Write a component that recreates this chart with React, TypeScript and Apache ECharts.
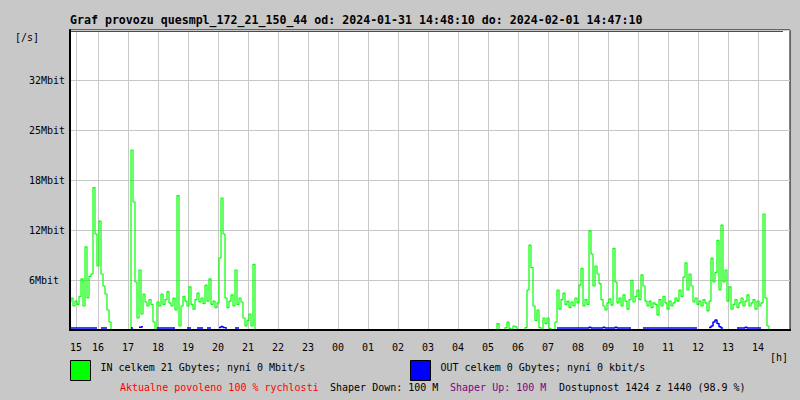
import React, { useEffect, useRef } from "react";
import * as echarts from "echarts";

const TITLE =
  "Graf provozu quesmpl_172_21_150_44 od: 2024-01-31 14:48:10 do: 2024-02-01 14:47:10";
const IN_NAME = "IN celkem 21 Gbytes; nyní 0 Mbit/s";
const OUT_NAME = "OUT celkem 0 Gbytes; nyní 0 kbit/s";
const Y_UNIT = "[/s]";
const X_UNIT = "[h]";
const STATUS_TEXTS = [
  "Aktualne povoleno 100 % rychlosti",
  "Shaper Down: 100 M",
  "Shaper Up: 100 M",
  "Dostupnost 1424 z 1440 (98.9 %)",
];
const STATUS_COLORS = ["#ff0000", "#000000", "#800080", "#000000"];

// x axis: minutes after 2024-01-31 15:00
const X_MIN = 4;
const X_MAX = 1444;
const HOUR_TICK_MIN = [16, 60, 120, 180, 240, 300, 360, 420, 480, 540, 600, 660, 720, 780, 840, 900, 960, 1020, 1080, 1140, 1200, 1260, 1320, 1380];
const HOUR_LABELS = ["15", "16", "17", "18", "19", "20", "21", "22", "23", "00", "01", "02", "03", "04", "05", "06", "07", "08", "09", "10", "11", "12", "13", "14"];

// y axis (Mbit/s)
const Y_MAX = 37.5;
const Y_INTERVAL = 6.25;
const Y_TICK_VALUES = [0, 6.25, 12.5, 18.75, 25, 31.25, 37.5];
const Y_LABELS = ["", "6Mbit", "12Mbit", "18Mbit", "25Mbit", "32Mbit", ""];
const MAX_LINE = 37.35;
const MAX_LINE_END_MIN = 1430;

// samples every 4 minutes
const SAMPLE_MIN = 4;
const EVENING_START_MIN = 4;
const MORNING_START_MIN = 856;

const IN_EVENING = [
  3.5, 4.0, 3.0, 3.6, 3.2, 4.2, 6.4, 3.0, 10.4, 4.0,
  6.7, 7.0, 17.8, 12.0, 8.0, 13.6, 7.0, 5.5, 4.5, 2.5,
  1.0, 0, 0, 0, 0, 0, 0, 0, 0, 0,
  0, 22.5, 16.0, 6.0, 1.5, 7.5, 2.0, 4.5, 3.5, 3.0,
  3.8, 3.2, 1.0, 0, 3.5, 3.0, 4.5, 3.2, 3.8, 4.8,
  3.4, 3.0, 4.0, 2.5, 16.8, 0.5, 3.0, 4.2, 3.6, 3.0,
  5.4, 3.2, 2.6, 3.8, 4.6, 3.5, 4.0, 3.3, 5.6, 3.6,
  6.4, 3.2, 3.6, 2.8, 3.4, 9.0, 16.5, 12.0, 4.0, 2.8,
  3.6, 4.4, 3.0, 7.5, 3.2, 4.0, 3.5, 1.5, 0.5, 1.2,
  2.0, 0.5, 8.2, 0,
];

const IN_MORNING = [
  0, 0.8, 0, 0, 0, 0.3, 1.0, 0.2, 0, 0.5,
  0.4, 0, 0, 0, 0, 0.3, 5.0, 10.6, 7.8, 3.0,
  1.2, 2.5, 0.3, 0, 1.5, 0.8, 1.5, 0.2, 0, 0,
  1.0, 5.0, 2.6, 3.8, 4.6, 3.2, 3.6, 2.8, 3.5, 3.0,
  4.0, 3.4, 5.6, 7.7, 3.0, 3.8, 3.2, 12.4, 9.5, 5.5,
  8.0, 7.0, 5.8, 3.8, 3.0, 2.5, 3.4, 3.9, 3.1, 10.2,
  6.0, 3.4, 4.0, 3.0, 4.4, 3.6, 2.6, 3.8, 6.2, 3.5,
  4.2, 5.0, 3.8, 6.9, 5.5, 3.6, 3.0, 3.6, 2.8, 3.4,
  3.2, 1.9, 3.8, 3.0, 4.2, 3.4, 2.6, 3.6, 3.0, 3.4,
  4.0, 3.6, 5.0, 4.2, 6.6, 8.4, 5.0, 7.0, 5.5, 3.5,
  4.0, 3.2, 3.6, 3.0, 3.8, 3.4, 2.4, 3.6, 9.0, 6.0,
  7.2, 11.2, 5.0, 13.1, 6.0, 7.5, 3.6, 5.4, 2.6, 3.2,
  3.8, 2.8, 3.4, 4.0, 3.0, 3.6, 4.4, 3.0, 3.4, 3.8,
  2.6, 3.6, 3.0, 3.4, 14.5, 4.0, 0.5, 0,
];

const OUT_EVENING = [
  null, 0.25, 0.25, 0.25, 0.25, 0.25, 0.25, 0.25, 0.25, 0.25,
  0.25, 0.25, 0.25, 0.25, null, null, 0.25, 0.25, 0.25, null,
  null, null, null, null, null, null, null, null, null, null,
  null, 0.25, null, null, null, 0.35, 0.4, null, null, null,
  null, null, null, null, 0.25, 0.25, 0.25, 0.25, 0.25, 0.25,
  0.25, 0.25, 0.25, null, null, null, null, null, null, 0.25,
  0.25, null, null, null, 0.25, 0.25, 0.25, null, null, 0.25,
  0.25, null, null, null, null, 0.3, 0.45, 0.3, 0.25, null,
  null, null, null, 0.25, 0.25, null, null, null, null, null,
  null, null, null, null,
];

const OUT_MORNING = [
  null, null, null, null, null, null, null, null, null, null,
  null, null, null, null, null, null, null, null, null, null,
  null, null, null, null, null, null, null, null, null, null,
  null, 0.25, 0.25, 0.25, 0.25, 0.25, 0.25, 0.25, 0.25, 0.25,
  0.25, 0.25, 0.25, 0.25, 0.25, 0.25, 0.25, 0.35, 0.25, 0.25,
  0.25, 0.25, 0.25, 0.25, 0.35, 0.25, 0.25, 0.25, 0.25, 0.25,
  0.35, 0.25, 0.25, 0.25, 0.25, 0.25, 0.25, 0.25, null, null,
  null, null, null, null, 0.25, 0.25, 0.25, 0.25, 0.25, 0.25,
  0.25, 0.25, 0.25, 0.25, 0.25, 0.25, 0.25, 0.25, 0.25, 0.25,
  0.25, 0.25, 0.25, 0.25, 0.25, 0.25, 0.25, 0.25, 0.25, 0.25,
  0.25, null, null, null, null, null, null, 0.3, 0.5, 1.0,
  1.25, 0.8, 0.4, 0.25, null, null, null, null, null, null,
  null, 0.25, 0.25, 0.25, 0.25, 0.35, 0.25, 0.25, 0.25, 0.25,
  0.25, 0.25, 0.25, null, null, null, null, null,
];

const MONO = "DejaVu Sans Mono";

function toPoints(
  segments: { start: number; values: (number | null)[] }[]
): (number | null)[][] {
  const pts: (number | null)[][] = [];
  segments.forEach((seg, si) => {
    if (si > 0) pts.push([seg.start - SAMPLE_MIN / 2, null]);
    seg.values.forEach((v, i) => pts.push([seg.start + i * SAMPLE_MIN, v]));
  });
  return pts;
}

function legendFor(name: string, left: number) {
  return {
    data: [name],
    left,
    top: 360,
    itemWidth: 20,
    itemHeight: 20,
    icon: "rect",
    selectedMode: false,
    padding: 0,
    itemStyle: { borderColor: "#000", borderWidth: 1 },
    formatter: (n: string) => `{t|${n}}`,
    textStyle: {
      fontFamily: MONO,
      fontSize: 10,
      color: "#000",
      rich: {
        t: { fontFamily: MONO, fontSize: 10, color: "#000", padding: [0, 0, 6, 5] },
      },
    },
  };
}

export default function App() {
  const ref = useRef<HTMLDivElement>(null);
  useEffect(() => {
    if (!ref.current) return;
    const chart = echarts.init(ref.current, null, { renderer: "svg" });
    const inData = toPoints([
      { start: EVENING_START_MIN, values: IN_EVENING },
      { start: MORNING_START_MIN, values: IN_MORNING },
    ]);
    const outData = toPoints([
      { start: EVENING_START_MIN, values: OUT_EVENING },
      { start: MORNING_START_MIN, values: OUT_MORNING },
    ]);
    const gl = 70, gt = 30, gr = 790, gb = 330;
    const statusText = (i: number, x: number) => ({
      type: "text",
      x,
      y: 387,
      style: {
        text: STATUS_TEXTS[i],
        fill: STATUS_COLORS[i],
        fontFamily: MONO,
        fontSize: 10,
        verticalAlign: "middle",
      },
    });
    chart.setOption({
      animation: false,
      backgroundColor: "#c8c8c8",
      textStyle: { fontFamily: MONO },
      title: {
        text: TITLE,
        left: 65,
        top: 9,
        textStyle: { fontFamily: MONO, fontWeight: "bold", fontSize: 11.6, color: "#000" },
      },
      legend: [legendFor(IN_NAME, gl), legendFor(OUT_NAME, 410)],
      grid: {
        left: gl,
        top: gt,
        right: 800 - gr,
        bottom: 400 - gb,
        show: true,
        backgroundColor: "#ffffff",
        borderColor: "#000000",
        borderWidth: 1,
      },
      xAxis: {
        type: "value",
        min: X_MIN,
        max: X_MAX,
        axisLine: { show: true, lineStyle: { color: "#000", width: 2 } },
        axisTick: { show: false, customValues: HOUR_TICK_MIN },
        splitLine: { show: true, lineStyle: { color: "#c8c8c8", width: 1 } },
        axisLabel: {
          customValues: HOUR_TICK_MIN,
          margin: 12,
          fontFamily: MONO,
          fontSize: 10,
          color: "#000",
          formatter: (v: number) => {
            const i = HOUR_TICK_MIN.indexOf(Math.round(v));
            return i >= 0 ? HOUR_LABELS[i] : "";
          },
        },
      },
      yAxis: {
        type: "value",
        min: 0,
        max: Y_MAX,
        interval: Y_INTERVAL,
        axisLine: { show: true, lineStyle: { color: "#000", width: 2 } },
        axisTick: { show: false },
        splitLine: { show: true, lineStyle: { color: "#c8c8c8", width: 1 } },
        axisLabel: {
          align: "left",
          margin: 41,
          fontFamily: MONO,
          fontSize: 10,
          color: "#000",
          padding: [4, 0, 0, 0],
          formatter: (v: number) => {
            const i = Y_TICK_VALUES.findIndex((t) => Math.abs(t - v) < 1e-6);
            return i >= 0 ? Y_LABELS[i] : "";
          },
        },
      },
      series: [
        {
          name: IN_NAME,
          type: "line",
          step: "middle",
          data: inData,
          showSymbol: false,
          connectNulls: false,
          color: "#00ff00",
          itemStyle: { color: "#00ff00" },
          lineStyle: { color: "#00ff00", width: 1.2 },
          z: 2,
          markLine: {
            silent: true,
            symbol: "none",
            label: { show: false },
            lineStyle: { color: "#ff0000", width: 1, type: "solid" },
            data: [[{ coord: [X_MIN, MAX_LINE] }, { coord: [MAX_LINE_END_MIN, MAX_LINE] }]],
          },
        },
        {
          name: OUT_NAME,
          type: "line",
          step: "middle",
          data: outData,
          showSymbol: false,
          connectNulls: false,
          color: "#0000ff",
          itemStyle: { color: "#0000ff" },
          lineStyle: { color: "#0000ff", width: 1.5 },
          z: 3,
        },
      ],
      graphic: [
        { type: "rect", z: 100, shape: { x: gl - 1, y: gb - 1, width: gr - gl + 2, height: 2 }, style: { fill: "#000" } },
        { type: "rect", z: 100, shape: { x: gl - 1, y: gt, width: 2, height: gb - gt }, style: { fill: "#000" } },
        { type: "text", x: 15, y: 37, style: { text: Y_UNIT, fill: "#000", fontFamily: MONO, fontSize: 10, verticalAlign: "middle" } },
        { type: "text", x: 770, y: 357, style: { text: X_UNIT, fill: "#000", fontFamily: MONO, fontSize: 10, verticalAlign: "middle" } },
        statusText(0, 120),
        statusText(1, 330),
        statusText(2, 450),
        statusText(3, 559),
      ],
    });
    return () => chart.dispose();
  }, []);
  return (
    <div
      ref={ref}
      style={{ position: "fixed", left: 0, top: 0, width: 800, height: 400 }}
    />
  );
}
